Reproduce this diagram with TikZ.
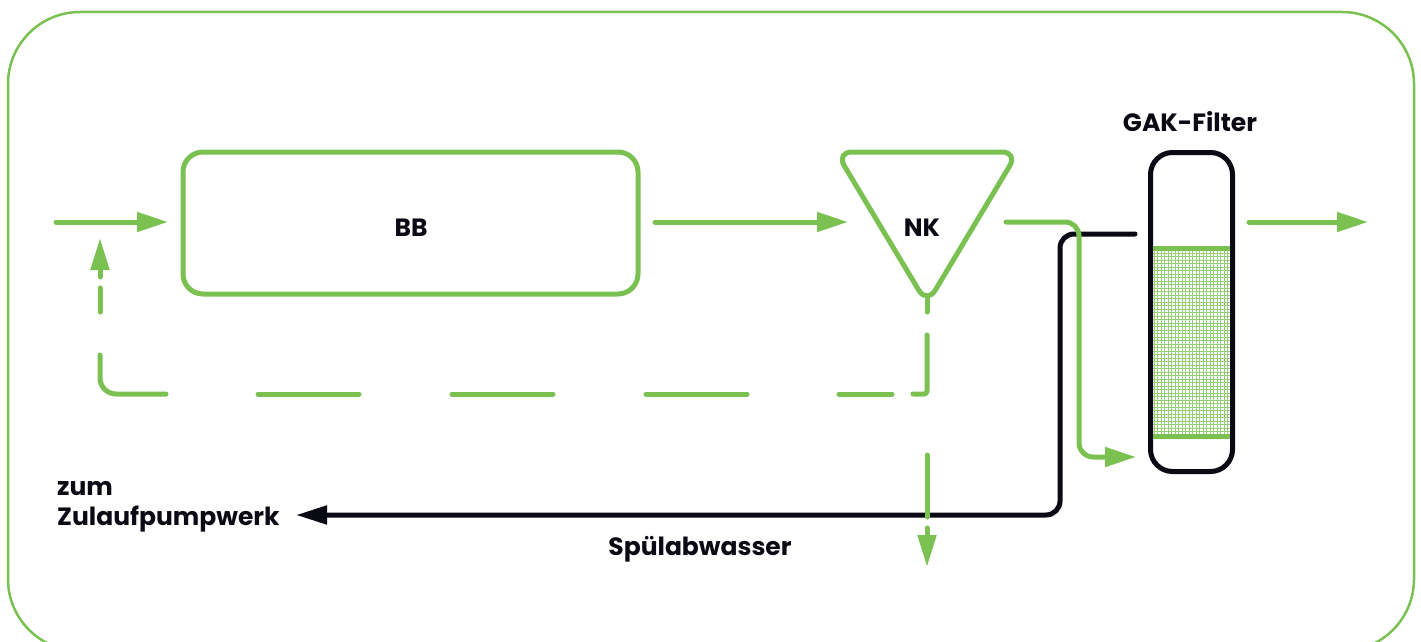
\documentclass[tikz,border=0pt]{standalone}
\usepackage{fontspec}
\setmainfont{Poppins}
\usetikzlibrary{arrows.meta}
\definecolor{gr}{RGB}{122,193,82}
\definecolor{gridgr}{RGB}{150,206,118}
\definecolor{bk}{RGB}{10,10,20}
\tikzset{
  gline/.style={draw=gr,line width=5pt,line cap=round,line join=round},
  bline/.style={draw=bk,line width=5pt,line cap=round,line join=round},
  gtip/.style={-{Triangle[length=31pt,width=19pt]}},
  lbl/.style={font=\fontsize{25}{30}\selectfont\bfseries,text=bk,inner sep=0pt},
}
\begin{document}
\begin{tikzpicture}[x=1pt,y=-1pt]
\useasboundingbox (0,0) rectangle (1421,642);
\clip (0,0) rectangle (1421,642);
% outer frame
\draw[draw=gr,line width=2.5pt,rounded corners=72pt] (8,12) rectangle (1414,651);

% BB
\node[gline,fill=white,rounded corners=20pt,minimum width=455pt,minimum height=142pt,inner sep=0pt] (bb) at (410.5,223) {};
\node[lbl,anchor=base] (bbt) at (411,236) {BB};

% NK triangle
\coordinate (nktl) at (836,152);
\coordinate (nktr) at (1018,152);
\coordinate (nkap) at (927,304);
\draw[gline,fill=white,rounded corners=16pt] (nktl) -- (nktr) -- (nkap) -- cycle;
\node[lbl,anchor=base] (nk) at (922,236) {NK};
\coordinate (nkbot) at (927,298);

% GAK filter
\node[draw=bk,line width=5pt,fill=white,rounded corners=22pt,minimum width=82pt,minimum height=319pt,inner sep=0pt] (gak) at (1191.5,312) {};
\begin{scope}
\clip (1153,251) rectangle (1230,434);
\foreach \x in {1154,1157.5,...,1232} \draw[gridgr,line width=0.9pt] (\x,250) -- (\x,435);
\foreach \y in {253,256.5,...,436} \draw[gridgr,line width=0.9pt] (1152,\y) -- (1231,\y);
\end{scope}
\draw[gr,line width=5pt] (1153,248.5) -- (1230,248.5);
\draw[gr,line width=5pt] (1153,436.5) -- (1230,436.5);
\node[lbl,anchor=base] (gakt) at (1190,131) {GAK-Filter};

% inlet
\draw[gline,gtip] (56,222) coordinate (in0) -- (168,222) coordinate (in1);
\draw[gline,gtip] (655,222) coordinate (bbout) -- (848,222) coordinate (nkin);
% outlet
\draw[gline,gtip] (1249,222) coordinate (gakout) -- (1368,222) coordinate (outend);

% backwash (black) and NK to GAK (green)
\draw[bline,-{Triangle[length=31pt,width=18pt]},rounded corners=14pt] (1135,234) coordinate (gakback) -- (1060,234) -- (1060,515) -- (296,515) coordinate (zulauf);
\draw[gline,gtip,rounded corners=14pt] (1006,222) coordinate (nkout) -- (1079,222) -- (1079,457) -- (1136,457) coordinate (gakin);

% recycle dashed (explicit segments)
\draw[gline] (nkbot) -- (927,312);
\draw[gline,rounded corners=3pt] (927,335) -- (927,394) -- (913,394);
\draw[gline] (892,394) -- (839,394);
\draw[gline] (747,394) -- (646,394);
\draw[gline] (553,394) -- (452,394);
\draw[gline] (359,394) -- (258,394);
\draw[gline,rounded corners=16pt] (166,394) -- (100,394) -- (100,355);
\draw[gline] (100,312) -- (100,288);
\draw[gline,-{Triangle[length=32pt,width=18pt]}] (100,277) -- (100,238) coordinate (recend);

% Spülabwasser outlet (dashed down)
\draw[gline] (927,455) -- (927,517);
\draw[gline,-{Triangle[length=32pt,width=18pt]}] (927,528) -- (927,567) coordinate (spend);

% labels
\node[lbl,anchor=base west] (zum) at (57,495) {zum};
\node[lbl,anchor=base west] (zul) at (57,525) {Zulaufpumpwerk};
\node[lbl,anchor=base] (sp) at (700,555) {Spülabwasser};
\end{tikzpicture}
\end{document}
